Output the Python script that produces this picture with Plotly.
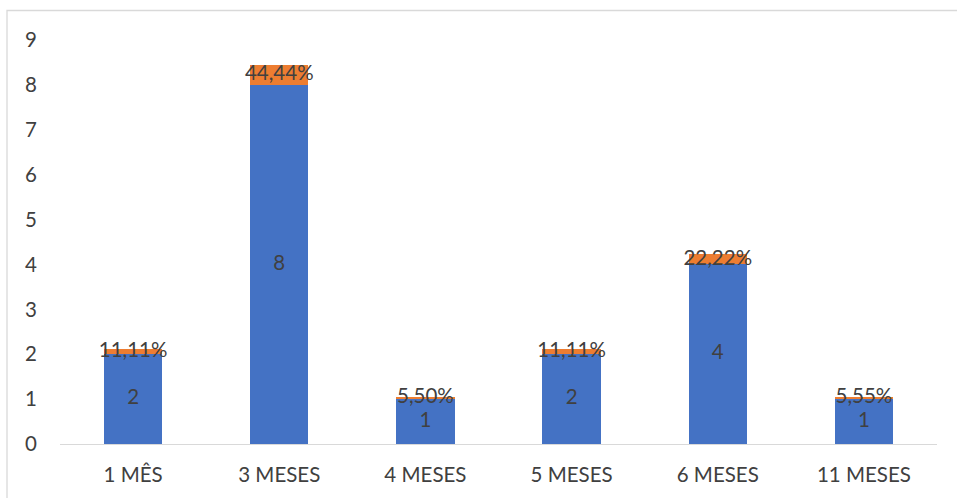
import plotly.graph_objects as go

categories = ["1 MÊS", "3 MESES", "4 MESES", "5 MESES", "6 MESES", "11 MESES"]
counts = [2, 8, 1, 2, 4, 1]
percents = [11.11, 44.44, 5.50, 11.11, 22.22, 5.55]
count_labels = ["2", "8", "1", "2", "4", "1"]
percent_labels = ["11,11%", "44,44%", "5,50%", "11,11%", "22,22%", "5,55%"]
y_ticks = [0, 1, 2, 3, 4, 5, 6, 7, 8, 9]

BLUE = "#4472C4"
ORANGE = "#ED7D31"
TEXT = "#404040"
FONT = "Lato"
FS = 20.5

pct_heights = [p / 100 for p in percents]

fig = go.Figure()
fig.add_trace(go.Bar(x=categories, y=counts, marker=dict(color=BLUE, line=dict(width=0)),
                     showlegend=False, hoverinfo="skip"))
fig.add_trace(go.Bar(x=categories, y=pct_heights, marker=dict(color=ORANGE, line=dict(width=0)),
                     showlegend=False, hoverinfo="skip"))

# labels centered in segments
fig.add_trace(go.Scatter(x=categories, y=[c / 2 for c in counts], mode="text",
                         text=count_labels, textposition="middle center",
                         textfont=dict(family=FONT, size=FS, color=TEXT),
                         showlegend=False, hoverinfo="skip", cliponaxis=False))
fig.add_trace(go.Scatter(x=categories, y=[c + h / 2 for c, h in zip(counts, pct_heights)],
                         mode="text", text=percent_labels, textposition="middle center",
                         textfont=dict(family=FONT, size=FS, color=TEXT),
                         showlegend=False, hoverinfo="skip", cliponaxis=False))

W, H = 957, 498
ml, mr, mt, mb = 60, 20, 40, 54
pw, ph = W - ml - mr, H - mt - mb

def px2x(px):
    return (px - ml) / pw

def py2y(py):
    return (H - mb - py) / ph

fig.add_shape(type="rect", xref="paper", yref="paper",
              x0=px2x(7), x1=px2x(962), y0=py2y(503), y1=py2y(10.5),
              line=dict(color="#D9D9D9", width=1.3), fillcolor="rgba(0,0,0,0)", layer="below")

fig.update_layout(
    width=W, height=H,
    margin=dict(l=ml, r=mr, t=mt, b=mb),
    barmode="stack",
    bargap=0.6,
    plot_bgcolor="white", paper_bgcolor="white",
    font=dict(family=FONT, size=FS, color=TEXT),
    xaxis=dict(showgrid=False, showline=True, linecolor="#D9D9D9", linewidth=1.3,
               ticks="", tickfont=dict(family=FONT, size=FS, color=TEXT), ticklabelstandoff=12,
               zeroline=False, fixedrange=True),
    yaxis=dict(range=[0, 9], tickvals=y_ticks, showgrid=False, showline=False, zeroline=False,
               ticks="", tickfont=dict(family=FONT, size=FS, color=TEXT), ticklabelstandoff=22,
               fixedrange=True),
)

fig.write_html("out.html")
